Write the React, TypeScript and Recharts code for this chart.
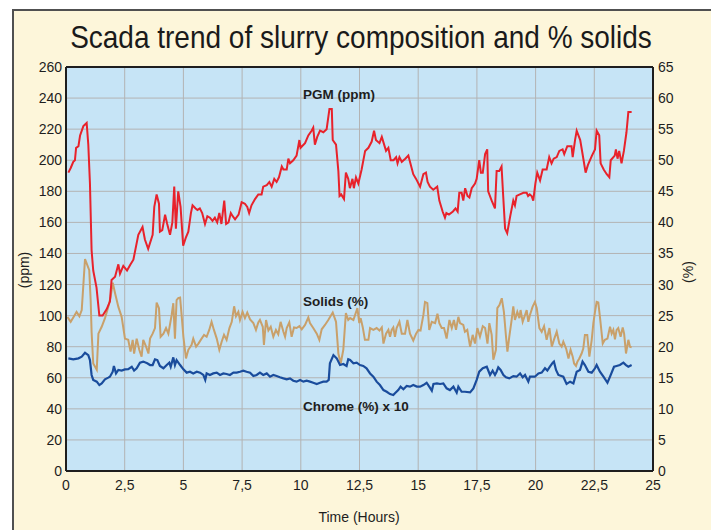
import React from 'react';
import { ComposedChart, Line, XAxis, YAxis, CartesianGrid } from 'recharts';

// [time (hours), PGM (ppm)]
const pgmSeries: [number, number][] = [
  [0.1, 192], [0.2, 195], [0.31, 199], [0.38, 200], [0.43, 208], [0.53, 209], [0.6, 216], [0.74, 222],
  [0.88, 224], [0.95, 210], [1.02, 185], [1.09, 142], [1.16, 129], [1.3, 118], [1.42, 100], [1.56, 100],
  [1.73, 104], [1.87, 109], [1.94, 123], [2.09, 125], [2.23, 133], [2.3, 127], [2.44, 132], [2.6, 129],
  [2.75, 133], [2.87, 136], [3.08, 152], [3.26, 157], [3.36, 149], [3.5, 143], [3.69, 152], [3.76, 170],
  [3.86, 178], [3.96, 172], [4.0, 154], [4.1, 155], [4.22, 165], [4.31, 159], [4.43, 152], [4.53, 160],
  [4.61, 183], [4.68, 156], [4.78, 180], [4.88, 170], [4.99, 145], [5.1, 150], [5.21, 154], [5.32, 166],
  [5.39, 171], [5.52, 169], [5.6, 168], [5.7, 169], [5.8, 166], [5.92, 159], [6.02, 164], [6.13, 163],
  [6.24, 161], [6.34, 163], [6.44, 160], [6.53, 166], [6.62, 159], [6.74, 174], [6.82, 159], [6.92, 160],
  [7.02, 166], [7.1, 164], [7.2, 162], [7.35, 165], [7.48, 173], [7.62, 172], [7.72, 170], [7.8, 166],
  [7.9, 171], [8.05, 175], [8.19, 178], [8.33, 178], [8.4, 183], [8.55, 184], [8.66, 186], [8.76, 183],
  [8.87, 188], [8.97, 186], [9.07, 189], [9.19, 196], [9.26, 194], [9.4, 194], [9.47, 201], [9.54, 198],
  [9.68, 200], [9.82, 203], [9.94, 213], [9.99, 208], [10.18, 211], [10.32, 216], [10.46, 219], [10.53, 221],
  [10.6, 210], [10.7, 215], [10.82, 219], [10.96, 218], [11.1, 220], [11.22, 233], [11.32, 233], [11.36, 213],
  [11.5, 210], [11.6, 193], [11.65, 177], [11.72, 178], [11.84, 175], [11.92, 192], [12.02, 188], [12.09, 182],
  [12.2, 188], [12.26, 182], [12.35, 189], [12.45, 185], [12.59, 194], [12.74, 206], [12.88, 208], [13.02, 212],
  [13.12, 219], [13.2, 213], [13.35, 211], [13.45, 215], [13.63, 206], [13.73, 208], [13.83, 200], [13.95, 200],
  [14.06, 202], [14.12, 198], [14.2, 202], [14.3, 199], [14.45, 201], [14.58, 203], [14.65, 199], [14.79, 191],
  [14.91, 188], [15.08, 183], [15.22, 191], [15.33, 192], [15.4, 186], [15.5, 183], [15.64, 181], [15.81, 183],
  [15.9, 174], [16.04, 167], [16.14, 163], [16.2, 166], [16.31, 165], [16.48, 167], [16.59, 169], [16.68, 167],
  [16.75, 179], [16.85, 179], [16.92, 174], [17.0, 182], [17.1, 177], [17.18, 176], [17.28, 182], [17.42, 185],
  [17.49, 188], [17.6, 200], [17.67, 192], [17.75, 192], [17.85, 204], [17.94, 207], [17.98, 180], [18.13, 174],
  [18.27, 169], [18.34, 193], [18.45, 193], [18.55, 196], [18.62, 177], [18.7, 156], [18.79, 153], [18.92, 164],
  [19.05, 174], [19.12, 171], [19.19, 177], [19.33, 178], [19.48, 179], [19.62, 179], [19.68, 177], [19.75, 178],
  [19.83, 177], [19.9, 174], [19.99, 185], [20.07, 192], [20.19, 187], [20.3, 194], [20.47, 194], [20.58, 202],
  [20.68, 198], [20.77, 201], [20.9, 202], [21.01, 206], [21.15, 207], [21.22, 204], [21.35, 209], [21.53, 209],
  [21.58, 202], [21.68, 213], [21.75, 219], [21.9, 213], [22.0, 204], [22.13, 192], [22.23, 197], [22.4, 203],
  [22.53, 207], [22.6, 219], [22.71, 216], [22.77, 198], [22.9, 194], [23.03, 191], [23.14, 189], [23.2, 200],
  [23.37, 203], [23.42, 207], [23.49, 201], [23.56, 206], [23.66, 198], [23.76, 206], [23.87, 218], [23.95, 231],
  [24.09, 231],
];

// [time (hours), solids (%)]
const solidsSeries: [number, number][] = [
  [0.06, 24.8], [0.2, 24.0], [0.31, 24.7], [0.45, 25.6], [0.57, 24.9], [0.67, 25.9], [0.81, 34.1], [0.99, 32.3],
  [1.05, 27.5], [1.09, 22.4], [1.16, 17.3], [1.31, 16.3], [1.38, 22.1], [1.52, 23.2], [1.66, 24.6], [1.8, 26.4],
  [1.9, 28.0], [1.99, 30.3], [2.09, 28.6], [2.23, 26.4], [2.37, 24.8], [2.51, 21.3], [2.65, 21.1], [2.75, 19.2],
  [2.84, 21.1], [2.9, 18.9], [3.01, 21.3], [3.12, 19.5], [3.22, 18.4], [3.29, 21.1], [3.41, 20.0], [3.51, 18.9],
  [3.58, 21.3], [3.69, 22.1], [3.79, 23.0], [3.86, 27.1], [3.96, 26.2], [4.03, 21.6], [4.15, 22.1], [4.26, 23.0],
  [4.36, 22.1], [4.5, 25.1], [4.57, 27.0], [4.64, 21.3], [4.71, 27.5], [4.78, 27.8], [4.86, 27.9], [4.93, 24.8],
  [5.0, 21.6], [5.11, 18.1], [5.21, 19.5], [5.35, 20.3], [5.42, 21.3], [5.54, 20.0], [5.64, 20.5], [5.74, 21.1],
  [5.88, 21.9], [5.99, 21.6], [6.1, 22.7], [6.2, 24.0], [6.3, 22.7], [6.42, 21.3], [6.53, 19.5], [6.63, 20.8],
  [6.73, 21.9], [6.84, 21.1], [6.96, 23.0], [7.06, 24.0], [7.16, 26.5], [7.24, 24.9], [7.34, 25.6], [7.41, 24.3],
  [7.52, 25.6], [7.62, 24.6], [7.72, 25.5], [7.84, 24.4], [7.98, 23.8], [8.09, 22.7], [8.19, 23.9], [8.26, 24.3],
  [8.38, 23.2], [8.43, 20.3], [8.52, 24.3], [8.62, 22.6], [8.72, 23.2], [8.83, 21.6], [8.94, 22.7], [9.04, 22.0],
  [9.14, 24.0], [9.26, 22.4], [9.33, 21.6], [9.4, 23.0], [9.51, 23.9], [9.61, 21.6], [9.71, 23.1], [9.82, 23.0],
  [9.94, 23.3], [10.04, 22.8], [10.18, 23.5], [10.32, 24.7], [10.39, 23.8], [10.53, 23.0], [10.68, 22.1], [10.79, 21.1],
  [10.89, 22.8], [11.03, 23.5], [11.17, 24.3], [11.36, 25.5], [11.5, 24.0], [11.6, 18.9], [11.7, 17.3], [11.81, 19.5],
  [11.92, 25.4], [12.02, 24.3], [12.1, 24.6], [12.24, 24.3], [12.41, 26.2], [12.49, 23.8], [12.55, 24.6], [12.64, 23.1],
  [12.73, 21.1], [12.88, 21.1], [12.95, 23.0], [13.09, 22.7], [13.23, 23.0], [13.35, 22.6], [13.45, 23.1], [13.52, 20.5],
  [13.63, 22.1], [13.73, 22.7], [13.8, 21.6], [13.87, 22.7], [13.94, 23.1], [14.01, 21.6], [14.08, 23.0], [14.2, 24.0],
  [14.3, 22.1], [14.44, 22.1], [14.54, 24.3], [14.65, 22.1], [14.79, 21.0], [14.91, 22.1], [15.01, 22.7], [15.1, 22.6],
  [15.22, 25.1], [15.29, 27.2], [15.39, 27.0], [15.47, 22.7], [15.58, 24.0], [15.72, 23.8], [15.82, 25.3], [15.9, 23.8],
  [16.0, 23.0], [16.1, 23.0], [16.21, 21.3], [16.33, 24.3], [16.43, 23.0], [16.52, 24.3], [16.61, 22.7], [16.71, 24.8],
  [16.78, 23.8], [16.92, 23.5], [16.99, 22.4], [17.09, 22.7], [17.21, 20.0], [17.32, 21.9], [17.42, 20.5], [17.52, 23.0],
  [17.63, 21.6], [17.75, 23.3], [17.85, 23.0], [17.95, 20.5], [18.03, 23.8], [18.13, 21.9], [18.2, 17.9], [18.31, 19.5],
  [18.37, 26.2], [18.46, 26.7], [18.56, 27.8], [18.65, 25.6], [18.74, 21.6], [18.8, 19.2], [18.88, 21.6], [18.98, 24.3],
  [19.05, 26.5], [19.12, 24.3], [19.22, 25.6], [19.31, 24.6], [19.36, 25.9], [19.45, 24.0], [19.55, 25.1], [19.62, 25.9],
  [19.69, 24.0], [19.76, 25.1], [19.87, 26.4], [19.97, 27.2], [20.05, 26.2], [20.16, 23.0], [20.26, 22.4], [20.36, 23.3],
  [20.47, 21.1], [20.59, 23.0], [20.69, 20.0], [20.78, 21.1], [20.9, 22.4], [21.01, 20.5], [21.11, 20.0], [21.18, 20.8],
  [21.3, 19.7], [21.4, 18.1], [21.49, 19.5], [21.58, 18.4], [21.64, 17.3], [21.72, 16.9], [21.78, 17.6], [21.86, 18.1],
  [21.96, 18.9], [22.03, 19.7], [22.1, 21.9], [22.2, 21.9], [22.29, 18.4], [22.39, 21.1], [22.46, 23.8], [22.53, 25.6],
  [22.6, 27.2], [22.67, 27.1], [22.74, 24.8], [22.86, 20.5], [22.95, 21.1], [23.06, 21.3], [23.17, 23.2], [23.24, 22.1],
  [23.31, 22.7], [23.38, 21.2], [23.45, 22.7], [23.52, 23.0], [23.62, 21.6], [23.71, 23.1], [23.77, 22.1], [23.85, 18.9],
  [23.95, 21.1], [24.02, 20.0], [24.09, 19.9],
];

// [time (hours), chrome (%) x 10]
const chromeSeries: [number, number][] = [
  [0.1, 72.5], [0.31, 71.9], [0.53, 72.5], [0.67, 73.6], [0.81, 76.1], [0.95, 74.6], [1.02, 71.4], [1.09, 61.8],
  [1.16, 58.6], [1.31, 57.5], [1.42, 55.3], [1.52, 56.4], [1.66, 59.0], [1.8, 60.1], [1.87, 60.7], [1.99, 63.9],
  [2.04, 67.6], [2.13, 62.8], [2.23, 65.0], [2.37, 64.6], [2.51, 65.4], [2.65, 65.6], [2.8, 67.1], [2.9, 64.6],
  [3.01, 66.1], [3.15, 69.7], [3.29, 70.4], [3.46, 69.3], [3.58, 68.2], [3.69, 68.2], [3.79, 71.9], [3.89, 71.4],
  [4.0, 67.6], [4.15, 66.1], [4.29, 68.2], [4.4, 69.7], [4.46, 67.1], [4.57, 73.1], [4.64, 68.2], [4.71, 71.4],
  [4.86, 68.2], [5.0, 65.4], [5.14, 63.3], [5.28, 63.9], [5.42, 62.8], [5.57, 63.9], [5.71, 63.3], [5.85, 61.8],
  [5.93, 58.6], [5.99, 62.8], [6.13, 61.8], [6.27, 62.8], [6.42, 63.3], [6.56, 61.8], [6.7, 62.8], [6.84, 62.4],
  [6.98, 61.8], [7.13, 63.3], [7.27, 63.3], [7.41, 63.9], [7.55, 64.6], [7.69, 63.9], [7.84, 63.3], [7.98, 61.1],
  [8.12, 61.8], [8.26, 63.3], [8.4, 61.8], [8.55, 62.8], [8.69, 60.7], [8.83, 61.8], [8.97, 61.1], [9.11, 60.3],
  [9.26, 59.6], [9.4, 59.0], [9.54, 59.6], [9.68, 58.1], [9.82, 57.5], [9.97, 58.6], [10.11, 57.5], [10.25, 58.1],
  [10.39, 57.5], [10.53, 56.8], [10.68, 56.0], [10.82, 56.8], [10.96, 57.5], [11.1, 57.5], [11.19, 58.6], [11.24, 69.3],
  [11.39, 74.6], [11.53, 72.5], [11.67, 68.2], [11.81, 68.9], [11.95, 67.6], [12.02, 71.9], [12.1, 71.4], [12.24, 69.3],
  [12.38, 69.7], [12.52, 68.2], [12.66, 67.6], [12.8, 66.1], [12.95, 62.8], [13.09, 60.7], [13.23, 57.5], [13.37, 55.3],
  [13.52, 52.1], [13.66, 51.0], [13.8, 49.5], [13.94, 48.9], [14.01, 50.0], [14.15, 52.1], [14.25, 54.3], [14.37, 52.6],
  [14.51, 54.7], [14.65, 54.3], [14.79, 55.3], [14.94, 54.3], [15.08, 54.3], [15.22, 55.3], [15.36, 56.8], [15.47, 54.3],
  [15.58, 51.7], [15.65, 56.0], [15.8, 56.4], [15.93, 56.0], [16.07, 56.4], [16.21, 53.2], [16.35, 52.1], [16.5, 54.3],
  [16.64, 50.4], [16.71, 54.3], [16.85, 51.0], [16.99, 51.0], [17.21, 50.6], [17.35, 53.2], [17.49, 58.6], [17.6, 63.9],
  [17.75, 66.1], [17.92, 67.1], [18.06, 61.8], [18.17, 64.6], [18.27, 61.8], [18.34, 63.9], [18.41, 66.7], [18.51, 65.0],
  [18.63, 61.8], [18.74, 60.3], [18.88, 59.6], [19.05, 61.1], [19.19, 60.7], [19.34, 62.8], [19.45, 60.3], [19.55, 61.8],
  [19.69, 57.5], [19.76, 60.7], [19.97, 60.7], [20.12, 62.8], [20.26, 63.3], [20.4, 66.1], [20.5, 64.6], [20.61, 67.1],
  [20.73, 69.7], [20.78, 70.4], [20.87, 65.0], [20.97, 61.8], [21.18, 60.7], [21.32, 56.0], [21.47, 57.5], [21.61, 56.4],
  [21.75, 63.9], [21.89, 65.0], [22.0, 70.4], [22.1, 68.2], [22.25, 63.9], [22.39, 63.3], [22.53, 66.1], [22.6, 68.2],
  [22.74, 63.9], [22.89, 60.7], [23.06, 56.8], [23.17, 60.7], [23.34, 67.1], [23.45, 67.6], [23.59, 68.2], [23.74, 69.7],
  [23.85, 68.2], [23.95, 67.1], [24.09, 68.2],
];

const xTicks = [0, 2.5, 5, 7.5, 10, 12.5, 15, 17.5, 20, 22.5, 25];
const leftTicks = [0, 20, 40, 60, 80, 100, 120, 140, 160, 180, 200, 220, 240, 260];
const rightTicks = [0, 5, 10, 15, 20, 25, 30, 35, 40, 45, 50, 55, 60, 65];

const pgmData = pgmSeries.map(([t, v]) => ({ t, v }));
const solidsData = solidsSeries.map(([t, v]) => ({ t, v }));
const chromeData = chromeSeries.map(([t, v]) => ({ t, v }));

const FONT = "'Liberation Sans', Arial, Helvetica, sans-serif";
const tickStyle = { fill: '#1e1e1e', fontSize: 14, fontFamily: FONT };
const fmtX = (v: number) => String(v).replace('.', ',');
const axisLineStyle = { stroke: '#1e1e1e', strokeWidth: 2 };

export default function App() {
  return (
    <div style={{ position: 'absolute', left: 0, top: 0, width: 711, height: 530, overflow: 'hidden', background: '#ffffff' }}>
      <div
        style={{
          position: 'absolute', left: 12, top: 9, width: 720, height: 540,
          background: '#fdf6da', borderLeft: '2px solid #505050', borderTop: '2px solid #505050',
        }}
      />
      <div style={{ position: 'absolute', left: 0, top: 0 }}>
        <ComposedChart width={711} height={530} margin={{ top: 66, right: 57, bottom: 58, left: 65 }}>
          <CartesianGrid
            xAxisId="bottom"
            yAxisId="left"
            fill="#c6e4f6"
            fillOpacity={1}
            stroke="#b3b3b3"
            strokeWidth={1}
          />
          <XAxis
            xAxisId="bottom"
            orientation="bottom"
            type="number"
            dataKey="t"
            domain={[0, 25]}
            ticks={xTicks}
            tickFormatter={fmtX}
            allowDataOverflow
            height={1}
            tickLine={false}
            tickSize={0}
            tickMargin={9}
            axisLine={axisLineStyle}
            tick={tickStyle}
            interval={0}
          />
          <XAxis
            xAxisId="top"
            orientation="top"
            type="number"
            dataKey="t"
            domain={[0, 25]}
            ticks={xTicks}
            allowDataOverflow
            height={1}
            tick={false}
            tickLine={false}
            axisLine={axisLineStyle}
          />
          <YAxis
            yAxisId="left"
            orientation="left"
            type="number"
            domain={[0, 260]}
            ticks={leftTicks}
            allowDataOverflow
            width={1}
            tickLine={false}
            tickSize={0}
            tickMargin={4}
            axisLine={axisLineStyle}
            tick={tickStyle}
            interval={0}
          />
          <YAxis
            yAxisId="right"
            orientation="right"
            type="number"
            domain={[0, 65]}
            ticks={rightTicks}
            allowDataOverflow
            width={1}
            tickLine={false}
            tickSize={0}
            tickMargin={5}
            axisLine={axisLineStyle}
            tick={tickStyle}
            interval={0}
          />
          <Line
            data={solidsData}
            xAxisId="bottom"
            yAxisId="right"
            dataKey="v"
            type="linear"
            stroke="#c9a06a"
            strokeWidth={2}
            dot={false}
            isAnimationActive={false}
          />
          <Line
            data={chromeData}
            xAxisId="bottom"
            yAxisId="left"
            dataKey="v"
            type="linear"
            stroke="#1a4c9c"
            strokeWidth={2.2}
            dot={false}
            isAnimationActive={false}
          />
          <Line
            data={pgmData}
            xAxisId="bottom"
            yAxisId="left"
            dataKey="v"
            type="linear"
            stroke="#e8222b"
            strokeWidth={2}
            dot={false}
            isAnimationActive={false}
          />
        </ComposedChart>
      </div>
      <svg width={711} height={530} style={{ position: 'absolute', left: 0, top: 0, pointerEvents: 'none' }}>
        <g transform="translate(361,48) scale(0.875,1)">
          <text x={0} y={0} textAnchor="middle" fontFamily={FONT} fontSize={32} fill="#1a1a1a">
            Scada trend of slurry composition and % solids
          </text>
        </g>
        <text x={303} y={99} fontFamily={FONT} fontSize={13.5} fontWeight="bold" fill="#1e1e1e">PGM (ppm)</text>
        <text x={303} y={306} fontFamily={FONT} fontSize={13.5} fontWeight="bold" fill="#1e1e1e">Solids (%)</text>
        <text x={303} y={411} fontFamily={FONT} fontSize={13.5} fontWeight="bold" fill="#1e1e1e">Chrome (%) x 10</text>
        <text x={359} y={522} textAnchor="middle" fontFamily={FONT} fontSize={14} fill="#1e1e1e">Time (Hours)</text>
        <text x={0} y={0} transform="translate(29,270) rotate(-90)" textAnchor="middle" fontFamily={FONT} fontSize={14} fill="#1e1e1e">(ppm)</text>
        <text x={0} y={0} transform="translate(693,272) rotate(-90)" textAnchor="middle" fontFamily={FONT} fontSize={14} fill="#1e1e1e">(%)</text>
      </svg>
    </div>
  );
}
